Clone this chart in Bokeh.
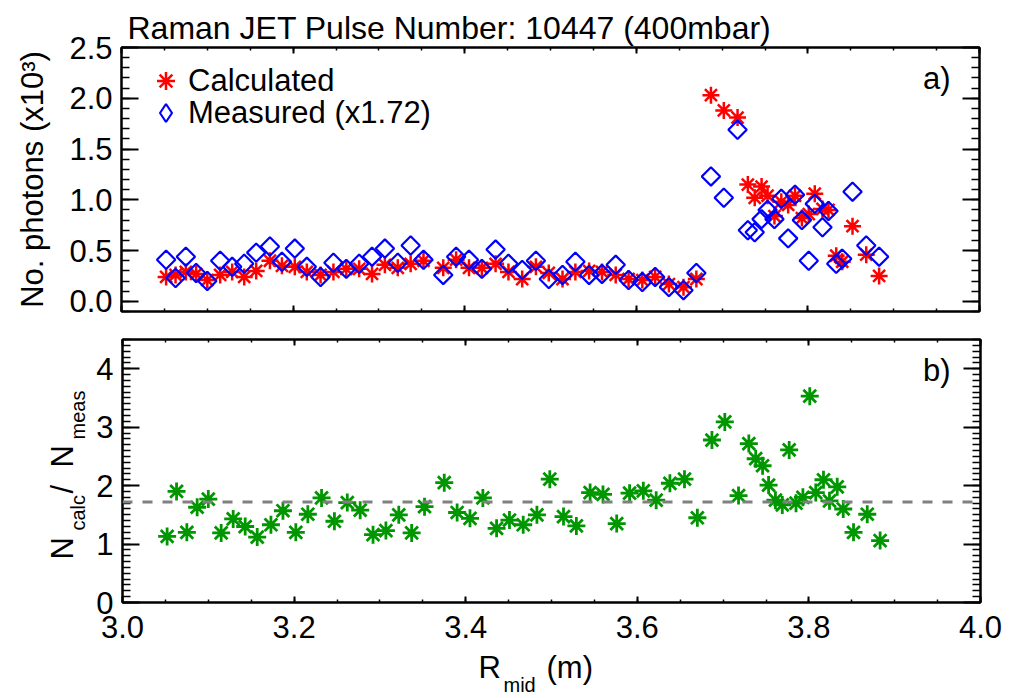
import numpy as np
from bokeh.plotting import figure
from bokeh.models import (LinearAxis, SingleIntervalTicker, Range1d, Span, Label,
                          Legend, LegendItem, ColumnDataSource, PrintfTickFormatter)
from bokeh.layouts import column, row
from bokeh.embed import file_html
from bokeh.resources import INLINE

# ---------------- data ----------------
r_mid = [3.052, 3.063, 3.075, 3.087, 3.100, 3.115, 3.129, 3.143, 3.157, 3.173,
         3.187, 3.202, 3.216, 3.232, 3.247, 3.262, 3.277, 3.292, 3.307, 3.322,
         3.337, 3.352, 3.375, 3.390, 3.405, 3.420, 3.436, 3.451, 3.467, 3.483,
         3.498, 3.514, 3.529, 3.545, 3.560, 3.576, 3.591, 3.607, 3.622, 3.638,
         3.655, 3.670, 3.687, 3.702, 3.718, 3.730, 3.738, 3.746, 3.753, 3.761,
         3.769, 3.777, 3.785, 3.793, 3.801, 3.808, 3.817, 3.824, 3.833, 3.840,
         3.852, 3.868, 3.883]

n_calc = [0.24, 0.26, 0.29, 0.27, 0.21, 0.26, 0.29, 0.24, 0.30, 0.40,
          0.35, 0.34, 0.29, 0.26, 0.29, 0.32, 0.32, 0.27, 0.36, 0.33,
          0.37, 0.40, 0.33, 0.41, 0.33, 0.33, 0.37, 0.29, 0.22, 0.34,
          0.28, 0.22, 0.29, 0.30, 0.29, 0.26, 0.22, 0.21, 0.24, 0.17,
          0.14, 0.22, 2.03, 1.88, 1.81, 1.15, 1.02, 1.13, 1.04, 0.84,
          0.98, 0.95, 1.04, 0.82, 0.86, 1.06, 0.91, 0.90, 0.45, 0.39,
          0.74, 0.46, 0.25]

n_meas = [0.41, 0.23, 0.44, 0.28, 0.20, 0.40, 0.34, 0.37, 0.48, 0.54,
          0.39, 0.52, 0.34, 0.24, 0.38, 0.32, 0.37, 0.44, 0.52, 0.38,
          0.55, 0.41, 0.26, 0.44, 0.41, 0.32, 0.51, 0.37, 0.31, 0.40,
          0.22, 0.26, 0.39, 0.26, 0.27, 0.36, 0.21, 0.19, 0.24, 0.14,
          0.11, 0.28, 1.23, 1.02, 1.69, 0.70, 0.68, 0.81, 0.90, 0.81,
          1.01, 0.62, 1.05, 0.80, 0.40, 0.96, 0.73, 0.89, 0.37, 0.42,
          1.08, 0.55, 0.44]

ratio = [1.13, 1.90, 1.20, 1.63, 1.77, 1.19, 1.43, 1.30, 1.12, 1.33,
         1.57, 1.20, 1.51, 1.79, 1.39, 1.71, 1.58, 1.16, 1.23, 1.50,
         1.19, 1.64, 2.05, 1.54, 1.44, 1.79, 1.27, 1.41, 1.33, 1.50,
         2.11, 1.47, 1.31, 1.88, 1.85, 1.35, 1.87, 1.91, 1.75, 2.04,
         2.11, 1.45, 2.78, 3.09, 1.83, 2.72, 2.46, 2.34, 2.01, 1.75,
         1.67, 2.61, 1.70, 1.80, 3.53, 1.88, 2.10, 1.74, 1.98, 1.60,
         1.20, 1.51, 1.06]

ratio_mean = 1.72
title_text = "Raman JET Pulse Number: 10447 (400mbar)"
legend_labels = ["Calculated", "Measured (x1.72)"]
panel_tags = ["a)", "b)"]

FONT = "Liberation Sans"
FS = "31px"
SUB = "20px"
DY = -13  # baseline correction for horizontal labels (31px)
DYS = -8  # baseline correction for horizontal labels (20px)

RED = "#ff0000"
BLUE = "#0000ff"
GREEN = "#009600"


def style_axis(ax, major_in, minor_in, labels, standoff=9):
    ax.axis_line_width = 2
    ax.axis_line_color = "black"
    ax.major_tick_in = major_in
    ax.major_tick_out = 0
    ax.minor_tick_in = minor_in
    ax.minor_tick_out = 0
    ax.major_tick_line_width = 2
    ax.minor_tick_line_width = 1.5
    ax.major_tick_line_color = "black"
    ax.minor_tick_line_color = "black"
    ax.major_label_text_font = FONT
    if labels:
        ax.major_label_text_color = "black"
        ax.major_label_text_font_size = FS
        ax.major_label_standoff = standoff
    else:
        ax.major_label_text_color = None
        ax.major_label_text_font_size = "1px"
        ax.major_label_standoff = standoff


def make_fig(width, height, y0, y1, left_b, top_b, bottom_b, y_interval, y_minor,
             y_fmt, x_labels, x_standoff, top_pad=0):
    p = figure(width=width, height=height, frame_width=858,
               frame_height=height - top_b - bottom_b,
               x_range=Range1d(3.0, 4.0), y_range=Range1d(y0, y1),
               x_axis_location=None, y_axis_location=None,
               output_backend="svg", toolbar_location=None,
               min_border_left=left_b, min_border_right=37,
               min_border_top=top_b, min_border_bottom=bottom_b)
    p.xgrid.visible = False
    p.ygrid.visible = False
    p.outline_line_color = "black"
    p.outline_line_width = 2
    p.background_fill_color = "white"
    p.border_fill_color = "white"
    xt = SingleIntervalTicker(interval=0.2, num_minor_ticks=4)
    yt = SingleIntervalTicker(interval=y_interval, num_minor_ticks=y_minor)
    xf = PrintfTickFormatter(format="%.1f")
    yf = PrintfTickFormatter(format=y_fmt)
    bottom = LinearAxis(ticker=xt, formatter=xf)
    top = LinearAxis(ticker=xt, formatter=xf)
    left = LinearAxis(ticker=yt, formatter=yf)
    right = LinearAxis(ticker=yt, formatter=yf)
    p.add_layout(bottom, "below")
    p.add_layout(left, "left")
    p.add_layout(top, "above")
    p.add_layout(right, "right")
    style_axis(bottom, 6, 3, x_labels, x_standoff)
    style_axis(top, 6, 3, False, top_pad)
    style_axis(left, 17, 8, True, 9)
    style_axis(right, 17, 8, False, 0)
    return p, left


def text_fig(width, height):
    f = figure(width=width, height=height, x_range=Range1d(0, 1), y_range=Range1d(0, 1),
               x_axis_location=None, y_axis_location=None,
               output_backend="svg", toolbar_location=None,
               min_border_left=0, min_border_right=0, min_border_top=0, min_border_bottom=0)
    f.xgrid.visible = False
    f.ygrid.visible = False
    f.outline_line_color = None
    f.background_fill_color = "white"
    f.border_fill_color = "white"
    return f


def add_text(f, txt, x, y, size, align="left", angle=0.0):
    f.add_layout(Label(x=x, y=y, x_units="canvas", y_units="canvas", text=txt,
                       angle=angle, text_font=FONT, text_font_size=size,
                       text_align=align, text_baseline="alphabetic", text_color="black"))


src = ColumnDataSource(dict(x=r_mid, calc=n_calc, meas=n_meas, ratio=ratio))

# ---------------- panel a ----------------
p1, p1_left = make_fig(1016, 325, -0.1, 2.5, 121, 47, 14, 0.5, 5, "%.1f", False, 0,
                       top_pad=7)
p1_left.axis_label = "No. photons (x10\u00b3)"
p1_left.axis_label_text_font = FONT
p1_left.axis_label_text_font_size = FS
p1_left.axis_label_text_font_style = "normal"
p1_left.axis_label_text_color = "black"
p1_left.axis_label_standoff = 16

p1.title.text = title_text
p1.title.text_font = FONT
p1.title.text_font_size = "32px"
p1.title.text_font_style = "normal"
p1.title.text_color = "black"
p1.title.align = "left"
p1.title.vertical_align = "top"
p1.title.offset = 6
p1.title.standoff = 0

r_calc = p1.scatter("x", "calc", source=src, marker="asterisk", size=17,
                    line_color=RED, line_width=2.5)
r_meas = p1.scatter("x", "meas", source=src, marker="square", size=13,
                    angle=np.pi / 4, fill_color=None, line_color=BLUE, line_width=2.2)
# legend key for the measured series (legend keys are drawn unrotated);
# its single point is NaN so nothing is drawn in the plot itself
key_src = ColumnDataSource(dict(x=[np.nan], y=[np.nan]))
r_key = p1.scatter("x", "y", source=key_src, marker="diamond", size=18,
                   fill_color=None, line_color=BLUE, line_width=2.2)

leg_a = Legend(items=[LegendItem(label=legend_labels[0], renderers=[r_calc])],
               location=(22, 208), label_text_font=FONT, label_text_font_size=FS,
               label_text_color="black",
               glyph_width=45, glyph_height=45, label_height=45, padding=0, margin=0,
               label_standoff=0, border_line_color=None, background_fill_alpha=0)
leg_b = Legend(items=[LegendItem(label=legend_labels[1], renderers=[r_key])],
               location=(22, 176), label_text_font=FONT, label_text_font_size=FS,
               label_text_color="black",
               glyph_width=45, glyph_height=45, label_height=45, padding=0, margin=0,
               label_standoff=0, border_line_color=None, background_fill_alpha=0)
p1.add_layout(leg_a, "center")
p1.add_layout(leg_b, "center")

add_text(p1, panel_tags[0], 950, 91 + DY, FS, "right")

# ---------------- panel b ----------------
YW = 93
p2, p2_left = make_fig(1016 - YW, 325, 0.0, 4.5, 121 - YW, 14, 48, 1.0, 10, "%d", True, 13)
p2.scatter("x", "ratio", source=src, marker="asterisk", size=18,
           line_color=GREEN, line_width=2.8)
p2.add_layout(Span(location=ratio_mean, dimension="width", line_color="#808080",
                   line_width=3, line_dash="10 10"))
add_text(p2, panel_tags[1], 950 - YW, 58 + DY, FS, "right")

# y label N_calc / N_meas (rotated, reading upwards)
ylab = text_fig(YW, 325)
add_text(ylab, "N", 62, 234, FS, angle=np.pi / 2)
add_text(ylab, "calc", 77, 205, SUB, angle=np.pi / 2)
add_text(ylab, "/", 62, 168, FS, angle=np.pi / 2)
add_text(ylab, "N", 62, 142, FS, angle=np.pi / 2)
add_text(ylab, "meas", 77, 114, SUB, angle=np.pi / 2)

# x label R_mid (m)
xlab = text_fig(1016, 48)
add_text(xlab, "R", 478, 30 + DY, FS)
add_text(xlab, "mid", 503, 42 + DYS, SUB)
add_text(xlab, "(m)", 546, 30 + DY, FS)

layout = column(p1, row(ylab, p2, spacing=0), xlab, spacing=0)
open("out.html", "w").write(file_html(layout, INLINE))
